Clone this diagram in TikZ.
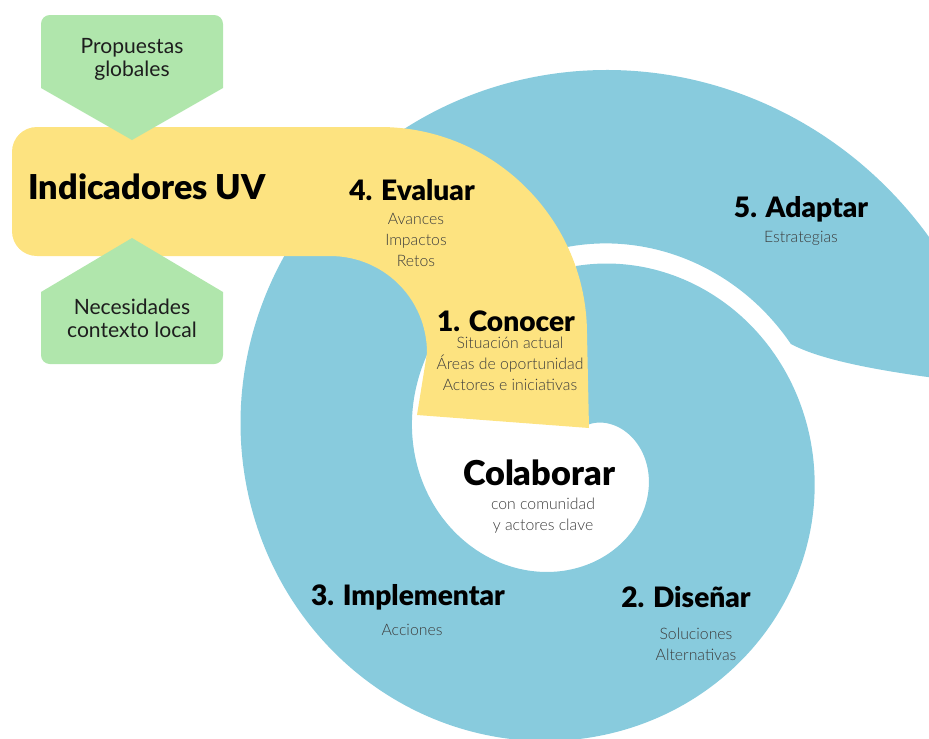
\documentclass[tikz,border=0pt]{standalone}
\usepackage{fontspec}
\setmainfont{Lato}
\IfFontExistsTF{Lato Black}{\newfontfamily\headfont{Lato Black}}{\newfontfamily\headfont{Lato}[UprightFont=*-Bold]}
\IfFontExistsTF{Lato Light}{\newfontfamily\lightfont{Lato Light}}{\newfontfamily\lightfont{Lato}}
\definecolor{spiralblue}{RGB}{136,203,221}
\definecolor{bandyellow}{RGB}{253,227,128}
\definecolor{boxgreen}{RGB}{176,230,172}
\definecolor{subtxt}{RGB}{60,60,60}
\definecolor{gtext}{RGB}{30,30,30}
\begin{document}
\begin{tikzpicture}[x=0.02cm,y=-0.02cm,
  steptitle/.style={font=\headfont\fontsize{16}{19}\selectfont, text=black, inner sep=0},
  bigtitle/.style={font=\headfont\fontsize{19.5}{23}\selectfont, text=black, inner sep=0},
  subtext/.style={font=\lightfont\fontsize{9}{12}\selectfont, text=subtxt, align=center, inner sep=0},
  greentext/.style={font=\fontsize{12}{13}\selectfont, text=gtext, align=center, inner sep=0}]
\useasboundingbox (0,0) rectangle (929,738);
\begin{scope}
\clip (0,0) rectangle (929,738);
\fill[fill=spiralblue] plot[domain=0:7.383,samples=220,smooth] ({576+(188+31*\x)*sin(\x r)},{454-(188+31*\x)*cos(\x r)})
  -- (960,266) -- (960,380) -- (935,378) .. controls (860,368) and (815,357) .. (791,344)
  -- plot[domain=7.381:0.3,samples=220,smooth] ({576+(20+30*\x)*sin(\x r)},{454-(20+30*\x)*cos(\x r)}) -- (560,380) -- cycle;
\end{scope}
% yellow band
\fill[fill=bandyellow] (37,127) -- (380,127) .. controls (494,127) and (587,220) .. (587,334) -- (589,428) -- (417,415)
  -- (427,353) .. controls (427,299) and (384,256) .. (330,256) -- (37,256)
  .. controls (23,256) and (12,245) .. (12,231) -- (12,152) .. controls (12,138) and (23,127) .. (37,127) -- cycle;
% green boxes
\fill[fill=boxgreen] (132,140) -- (41,88) [rounded corners=5pt] -- (41,15) -- (223,15) [sharp corners] -- (223,88) -- cycle;
\fill[fill=boxgreen] (132,238) -- (223,292) [rounded corners=5pt] -- (223,364) -- (41,364) [sharp corners] -- (41,292) -- cycle;
% texts
\node[greentext] (prop) at (132,59) {Propuestas\\globales};
\node[bigtitle] (ind) at (147,187) {Indicadores UV};
\node[greentext] (nec) at (132,318) {Necesidades\\contexto local};
\node[steptitle] (ev) at (412,190) {4. Evaluar};
\node[subtext] (evs) at (416,240) {Avances\\Impactos\\Retos};
\node[steptitle] (ad) at (801,209) {5. Adaptar};
\node[subtext] (ads) at (801,238) {Estrategias};
\node[steptitle] (co) at (506,321) {1. Conocer};
\node[subtext] (cos) at (510,364) {Situación actual\\Áreas de oportunidad\\Actores e iniciativas};
\node[bigtitle] (cl) at (539,473) {Colaborar};
\node[subtext] (cls) at (543,516) {con comunidad\\y actores clave};
\node[steptitle] (im) at (408,597) {3. Implementar};
\node[subtext] (ims) at (412,630) {Acciones};
\node[steptitle] (di) at (686,597) {2. Diseñar};
\node[subtext] (dis) at (696,644) {Soluciones\\Alternativas};
\end{tikzpicture}
\end{document}
